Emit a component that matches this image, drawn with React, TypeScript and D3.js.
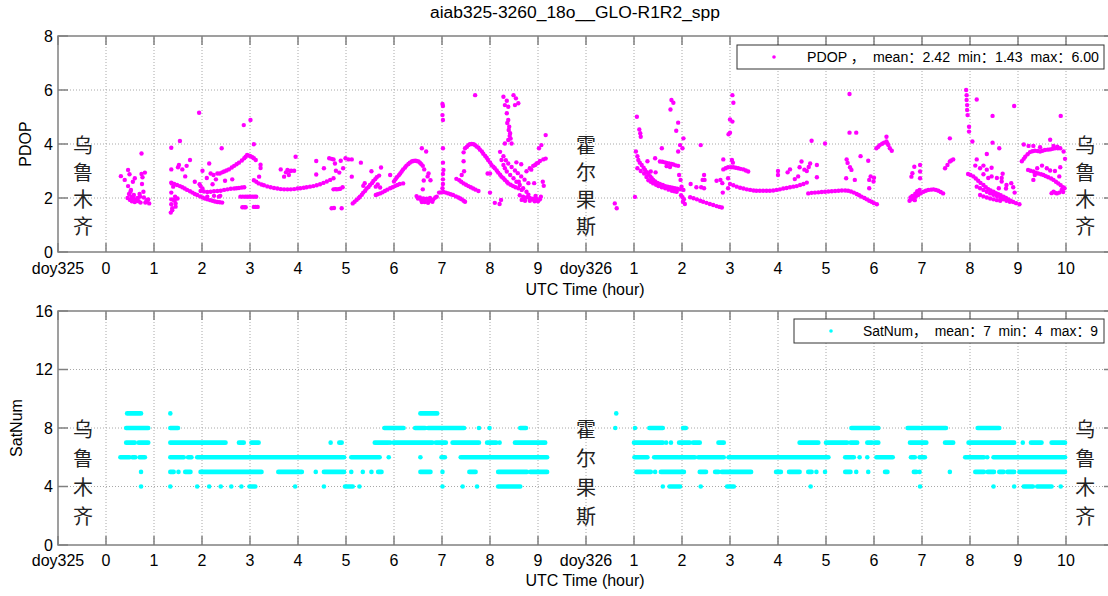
import React, { useRef, useEffect } from "react";
import { select, scaleLinear, range } from "d3";

// axis positions: 0 = doy325, 1..10 = hours 0..9, 11 = doy326, 12..21 = hours 1..10
const xTickLabels = ["doy325", "0", "1", "2", "3", "4", "5", "6", "7", "8", "9", "doy326", "1", "2", "3", "4", "5", "6", "7", "8", "9", "10"];
const pdopTicks = [0, 2, 4, 6, 8];
const satTicks = [0, 4, 8, 12, 16];

const title = "aiab325-3260_18o__GLO-R1R2_spp";
const pdopLegend = "PDOP ，  mean：2.42  min：1.43  max：6.00";
const satLegend = "SatNum，  mean：7  min：4  max：9";

const stationNames = ["乌鲁木齐", "霍尔果斯", "乌鲁木齐"];
const stationPos = [0.52, 11.0, 21.4];

// PDOP samples [axis hour, pdop], first day
const pdop325: [number, number][] = [
  [1.31, 2.81], [1.39, 2.67], [1.46, 2.44], [1.51, 2.23], [1.57, 2.05], [1.64, 1.9], [1.72, 1.83], [1.82, 1.83], [1.9, 1.8],
  [1.46, 3.04], [1.49, 2.88], [1.6, 2.73], [1.74, 3.65], [1.74, 2.89], [1.81, 2.94], [1.76, 2.77], [1.75, 2.52], [1.78, 2.23],
  [1.71, 2.05], [1.53, 2.05], [1.5, 1.93], [1.58, 2.11], [1.79, 2.02], [1.86, 1.93], [1.55, 1.98], [1.62, 1.95], [1.68, 1.88],
  [1.52, 2.3], [1.56, 2.6], [1.45, 2.0], [1.48, 2.15], [1.54, 1.88], [1.6, 1.85], [1.66, 2.0], [1.7, 2.15], [1.84, 1.88], [1.88, 1.95],
  [2.36, 3.86], [2.36, 3.06], [2.37, 2.54], [2.4, 2.42], [2.36, 2.2], [2.36, 1.95], [2.41, 1.93], [2.36, 1.77], [2.45, 1.68],
  [2.38, 1.62], [2.35, 1.46], [2.45, 1.8], [2.49, 1.98], [2.38, 1.55], [2.43, 1.9], [2.44, 2.05],
  [2.36, 2.57], [2.42, 2.52], [2.48, 2.48], [2.54, 2.44], [2.59, 2.4], [2.64, 2.35], [2.69, 2.3], [2.75, 2.25], [2.8, 2.2],
  [2.85, 2.15], [2.9, 2.11], [2.96, 2.06], [3.01, 2.02], [3.06, 1.98], [3.11, 1.95], [3.17, 1.92], [3.22, 1.9], [3.27, 1.87],
  [3.32, 1.85], [3.37, 1.84], [3.42, 1.83],
  [2.97, 2.26], [3.04, 2.24], [3.11, 2.22], [3.18, 2.23], [3.25, 2.25], [3.32, 2.26], [3.39, 2.27], [3.46, 2.3], [3.53, 2.32],
  [3.6, 2.34], [3.67, 2.35], [3.72, 2.36], [3.77, 2.37], [3.83, 2.39], [3.88, 2.4],
  [3.37, 2.91], [3.42, 2.95], [3.46, 2.98], [3.51, 3.02], [3.56, 3.06], [3.62, 3.13], [3.67, 3.19], [3.72, 3.25], [3.77, 3.31],
  [3.83, 3.39], [3.88, 3.47], [3.91, 3.53], [3.94, 3.59], [3.98, 3.57], [4.01, 3.55], [4.05, 3.51], [4.08, 3.47], [4.12, 3.41],
  [4.19, 2.79], [4.22, 3.23], [4.22, 3.11], [4.08, 3.99], [4.01, 4.89], [3.87, 4.7], [2.94, 5.16], [3.41, 3.84], [2.54, 4.11],
  [2.75, 3.41], [2.68, 3.19], [2.59, 3.06], [2.52, 3.22], [2.5, 3.14], [3.01, 3.01], [3.1, 2.74], [3.15, 3.28], [3.18, 2.91],
  [3.24, 2.85], [3.29, 2.69], [3.32, 2.91], [3.48, 2.64], [3.63, 2.69], [3.22, 2.51], [2.95, 2.51], [2.97, 2.44], [3.01, 2.35],
  [3.25, 2.08], [3.35, 2.05], [3.38, 2.08], [3.11, 2.05], [2.85, 2.6], [2.65, 2.8],
  [3.8, 2.05], [3.85, 2.05], [3.9, 2.05], [3.94, 2.05], [3.98, 2.05], [4.02, 2.05], [4.06, 2.05], [4.1, 2.05], [4.13, 2.05],
  [3.84, 1.66], [3.88, 1.66], [3.91, 1.66], [4.08, 1.67], [4.12, 1.67], [4.16, 1.67],
  [4.08, 2.66], [4.13, 2.6], [4.18, 2.54], [4.24, 2.5], [4.29, 2.47], [4.36, 2.43], [4.43, 2.4], [4.5, 2.37], [4.57, 2.35],
  [4.64, 2.33], [4.71, 2.32], [4.78, 2.32], [4.85, 2.32], [4.92, 2.33], [4.99, 2.35], [5.05, 2.36], [5.12, 2.38], [5.18, 2.4],
  [5.25, 2.42], [5.32, 2.44], [5.39, 2.47], [5.46, 2.51], [5.53, 2.56], [5.6, 2.61], [5.67, 2.67], [5.74, 2.73],
  [4.64, 3.06], [4.71, 2.79], [4.78, 3.04], [4.86, 3.01], [4.92, 3.01], [4.95, 3.53], [4.81, 2.85], [4.83, 3.0], [4.75, 2.95],
  [5.38, 3.37], [5.38, 2.87], [5.54, 3.1], [5.65, 3.47], [5.7, 3.45], [5.74, 3.43], [5.77, 3.28], [5.79, 3.01], [5.86, 2.94],
  [5.89, 3.38], [5.94, 3.1], [5.99, 3.47], [6.05, 3.43], [6.12, 3.43], [6.12, 2.79], [6.31, 3.31],
  [5.74, 2.32], [5.78, 2.33], [5.81, 2.32], [5.85, 2.33], [5.88, 2.34], [5.93, 2.4], [5.7, 1.62], [5.91, 1.62], [5.75, 1.63],
  [6.14, 1.8], [6.18, 1.86], [6.22, 1.93], [6.26, 1.99], [6.29, 2.05], [6.33, 2.12], [6.36, 2.2], [6.4, 2.27], [6.43, 2.35],
  [6.47, 2.41], [6.5, 2.48], [6.54, 2.55], [6.57, 2.63], [6.61, 2.7], [6.64, 2.77], [6.69, 2.83],
  [6.53, 2.99], [6.73, 3.13], [6.62, 2.42], [6.39, 2.55], [6.36, 2.45], [6.71, 2.39], [6.66, 2.5],
  [6.62, 2.11], [6.66, 2.14], [6.71, 2.17], [6.76, 2.21], [6.81, 2.26], [6.86, 2.31], [6.92, 2.36], [6.97, 2.4], [7.02, 2.44],
  [7.07, 2.48], [7.12, 2.52], [7.19, 2.54], [6.92, 2.85],
  [7.0, 2.61], [7.03, 2.69], [7.06, 2.77], [7.1, 2.84], [7.13, 2.91], [7.16, 2.98], [7.19, 3.06], [7.23, 3.13], [7.26, 3.2],
  [7.3, 3.26], [7.33, 3.31], [7.37, 3.35], [7.4, 3.37], [7.44, 3.38], [7.47, 3.37], [7.51, 3.35], [7.54, 3.31], [7.57, 3.25],
  [7.6, 3.19], [7.63, 3.06],
  [7.58, 3.84], [7.67, 3.72], [7.72, 2.91], [7.76, 2.66], [7.7, 2.8], [7.6, 2.32], [7.62, 2.65],
  [7.47, 2.07], [7.5, 1.98], [7.54, 2.02], [7.57, 1.92], [7.61, 1.98], [7.64, 1.85], [7.68, 1.97], [7.72, 1.88], [7.75, 2.0],
  [7.78, 1.9], [7.82, 1.95], [7.86, 2.02], [7.89, 2.05], [7.58, 1.85], [7.71, 1.82], [7.8, 1.86],
  [8.01, 5.48], [8.02, 5.41], [8.01, 5.07], [8.02, 4.89], [8.02, 3.84], [8.02, 3.31], [8.03, 3.04], [8.02, 2.89], [8.02, 2.69],
  [8.02, 2.52], [8.01, 2.36],
  [7.94, 2.2], [7.98, 2.21], [8.03, 2.22], [8.08, 2.2], [8.13, 2.17], [8.18, 2.14], [8.23, 2.11], [8.29, 2.06], [8.34, 2.02],
  [8.38, 1.98], [8.41, 1.95], [8.45, 1.9], [8.48, 1.86],
  [8.69, 5.81], [8.3, 2.71], [8.41, 2.85], [8.46, 2.99], [8.45, 3.36], [8.45, 3.69],
  [8.48, 3.84], [8.52, 3.9], [8.55, 3.96], [8.58, 3.99], [8.62, 4.0], [8.66, 3.99], [8.69, 3.96], [8.72, 3.91], [8.76, 3.86],
  [8.79, 3.79], [8.83, 3.72], [8.86, 3.64], [8.9, 3.56], [8.93, 3.49], [8.96, 3.41], [9.0, 3.32], [9.03, 3.22], [9.07, 3.16],
  [9.1, 3.1], [9.14, 3.02], [9.17, 2.94], [9.21, 2.86], [9.24, 2.79], [9.28, 2.73], [9.31, 2.67], [9.35, 2.6], [9.38, 2.54],
  [9.43, 2.49], [9.48, 2.44], [9.53, 2.4], [9.59, 2.36], [9.66, 2.3],
  [8.36, 2.66], [8.4, 2.6], [8.45, 2.54], [8.5, 2.49], [8.55, 2.44], [8.6, 2.4], [8.65, 2.35], [8.7, 2.31], [8.76, 2.26],
  [9.28, 5.75], [9.35, 5.6], [9.38, 5.38], [9.49, 5.81], [9.54, 5.69], [9.59, 5.51], [9.52, 5.44], [9.31, 5.44],
  [9.35, 5.14], [9.38, 4.89], [9.4, 4.64], [9.42, 4.4], [9.38, 4.15], [9.31, 4.02], [9.43, 4.2], [9.45, 4.02], [9.36, 4.78],
  [9.39, 4.52], [9.41, 4.3],
  [9.21, 3.71], [9.24, 3.41], [9.28, 3.22], [9.31, 3.1], [9.35, 2.98], [9.42, 2.85], [9.49, 2.73], [9.55, 2.6], [9.62, 2.48],
  [9.69, 2.36], [9.76, 2.23],
  [9.28, 3.55], [9.33, 3.4], [9.38, 3.28], [9.45, 3.15], [9.52, 3.02], [9.58, 2.92], [9.65, 2.8], [9.72, 2.68], [9.8, 2.55],
  [9.62, 2.1], [9.69, 2.05], [9.76, 2.02], [9.83, 2.0], [9.9, 1.97], [9.97, 1.97], [10.04, 1.95], [9.66, 1.93], [9.73, 1.9],
  [9.83, 1.9], [9.93, 1.88], [10.0, 1.88], [10.06, 2.05], [9.8, 2.12], [9.95, 2.08], [9.7, 1.97], [9.88, 1.95],
  [9.76, 2.99], [9.83, 3.1], [9.9, 3.19], [9.97, 3.28], [10.04, 3.37], [10.11, 3.43], [10.16, 3.46], [9.86, 3.05], [9.94, 3.22],
  [10.0, 3.3],
  [10.16, 4.33], [10.07, 3.96], [10.02, 3.84], [9.0, 2.91], [8.95, 2.91], [9.0, 2.2], [9.1, 1.82], [9.23, 1.93], [9.2, 1.78],
  [9.6, 2.6], [9.55, 3.32], [9.65, 3.25], [10.1, 2.6], [10.12, 2.45], [9.92, 2.55],
];

// PDOP samples, second day
const pdop326: [number, number][] = [
  [11.6, 1.8], [11.64, 1.62], [12.02, 2.04], [12.06, 5.01], [12.11, 4.54], [12.14, 4.27], [12.13, 4.4],
  [12.04, 3.72], [12.07, 3.55], [12.09, 3.41], [12.12, 3.31], [12.16, 3.22], [12.2, 3.12], [12.23, 3.04], [12.27, 2.96],
  [12.3, 2.88], [12.34, 2.8], [12.37, 2.73], [12.4, 2.67], [12.44, 2.61], [12.49, 2.56], [12.54, 2.52], [12.6, 2.48],
  [12.65, 2.44], [12.7, 2.42], [12.75, 2.4], [12.8, 2.38], [12.85, 2.36], [12.9, 2.34], [12.96, 2.32], [13.03, 2.3],
  [12.07, 3.1], [12.14, 3.0], [12.21, 2.91], [12.26, 2.78], [12.3, 2.66], [12.35, 2.6], [12.4, 2.54], [12.46, 2.49],
  [12.51, 2.44], [12.58, 2.4], [12.65, 2.36], [12.72, 2.31], [12.79, 2.27], [12.84, 2.25], [12.89, 2.23],
  [12.54, 3.35], [12.59, 3.34], [12.64, 3.32], [12.68, 3.3], [12.73, 3.28], [12.78, 3.26], [12.82, 3.24], [12.87, 3.21],
  [12.92, 3.19], [12.68, 3.18], [12.75, 3.15],
  [12.44, 3.47], [12.58, 3.84], [12.78, 5.63], [12.82, 5.53], [12.76, 5.28], [12.92, 4.79], [12.88, 4.49], [12.96, 3.96],
  [12.92, 3.72], [13.01, 3.84], [13.03, 4.21], [12.94, 2.85], [12.97, 2.67], [12.99, 2.42], [12.35, 2.98], [12.45, 2.95],
  [12.28, 3.36],
  [13.01, 2.03], [13.02, 1.86], [13.06, 1.78], [12.98, 2.1], [13.04, 1.95],
  [13.17, 2.03], [13.24, 1.99], [13.31, 1.95], [13.38, 1.9], [13.44, 1.86], [13.51, 1.82], [13.58, 1.78], [13.65, 1.74],
  [13.72, 1.7], [13.78, 1.67], [13.83, 1.65],
  [13.18, 2.52], [13.39, 3.96], [13.43, 2.67], [13.47, 2.67], [13.46, 2.36], [13.46, 2.85], [13.72, 2.64], [13.8, 2.67],
  [13.84, 2.55], [13.86, 3.43], [13.85, 2.2], [13.4, 2.4], [13.3, 2.4],
  [14.05, 5.81], [14.07, 5.53], [14.0, 4.91], [14.05, 4.83], [14.0, 4.42], [13.97, 4.36], [14.04, 3.41], [14.06, 3.31],
  [13.86, 3.06], [13.91, 3.1], [13.96, 3.14], [14.02, 3.14], [14.07, 3.14], [14.12, 3.12], [14.17, 3.1], [14.22, 3.08],
  [14.28, 3.06], [14.33, 3.02], [14.38, 2.98], [13.96, 2.73], [13.96, 2.36],
  [14.0, 2.52], [14.07, 2.47], [14.14, 2.42], [14.21, 2.38], [14.28, 2.35], [14.35, 2.32], [14.42, 2.3], [14.49, 2.28],
  [14.55, 2.27], [14.62, 2.27], [14.69, 2.27], [14.76, 2.27], [14.83, 2.27], [14.9, 2.28], [14.97, 2.3], [15.04, 2.32],
  [15.11, 2.35], [15.18, 2.37], [15.25, 2.4], [15.32, 2.42], [15.39, 2.44], [15.46, 2.48], [15.53, 2.52], [15.6, 2.57],
  [15.0, 3.0], [15.0, 2.85], [15.25, 3.06], [15.45, 3.14], [15.49, 3.35], [15.6, 3.0], [15.67, 3.28], [15.64, 3.15],
  [15.35, 2.7], [15.42, 2.8], [15.81, 3.22], [15.81, 2.77], [15.7, 4.12], [15.2, 2.95], [15.55, 3.05],
  [15.63, 2.17], [15.7, 2.19], [15.77, 2.2], [15.84, 2.21], [15.91, 2.22], [15.98, 2.23], [16.05, 2.24], [16.12, 2.25],
  [16.19, 2.26], [16.26, 2.27], [16.33, 2.28], [16.4, 2.28], [16.46, 2.27], [16.52, 2.24], [16.58, 2.2], [16.64, 2.15],
  [16.69, 2.1], [16.74, 2.05], [16.8, 2.0], [16.85, 1.95], [16.9, 1.9], [16.95, 1.86], [17.0, 1.81], [17.06, 1.77],
  [16.49, 5.85], [16.49, 4.42], [16.63, 4.42], [16.43, 3.43], [16.5, 3.14], [16.53, 3.04], [16.42, 2.73], [16.6, 2.67],
  [16.72, 3.55], [16.88, 3.38], [16.9, 2.67], [16.99, 2.61], [17.0, 2.75], [16.9, 2.36], [15.98, 4.02], [16.45, 3.3],
  [16.93, 2.8],
  [17.05, 3.84], [17.09, 3.9], [17.12, 3.96], [17.17, 4.01], [17.21, 4.05], [17.26, 4.09], [17.28, 4.02], [17.3, 3.96],
  [17.33, 3.84], [17.37, 3.75], [17.26, 4.27],
  [17.74, 1.9], [17.78, 1.95], [17.82, 1.99], [17.87, 2.05], [17.92, 2.11], [17.97, 2.17], [18.03, 2.23], [18.08, 2.27],
  [18.13, 2.3], [18.19, 2.31], [18.24, 2.32], [18.29, 2.3], [18.34, 2.27], [18.39, 2.22], [18.44, 2.17],
  [17.8, 2.08], [17.86, 2.16], [17.9, 2.25], [17.95, 2.3], [17.78, 2.79], [17.8, 2.92], [17.84, 3.16], [17.96, 3.22],
  [17.96, 2.98], [17.96, 2.73], [17.76, 2.02], [17.85, 1.92],
  [18.48, 3.1], [18.53, 3.22], [18.58, 3.35], [18.65, 3.43], [18.61, 3.39], [18.58, 4.21],
  [18.92, 6.0], [18.93, 5.81], [18.93, 5.63], [18.94, 5.44], [18.94, 5.26], [18.95, 5.07], [18.98, 4.64], [18.98, 4.46],
  [19.05, 4.09], [19.14, 5.65], [19.47, 5.04], [19.92, 5.41], [20.89, 5.04],
  [19.47, 4.05], [19.61, 3.84], [19.35, 3.63], [19.14, 3.43], [19.11, 3.2], [19.21, 3.1], [19.28, 3.2], [19.35, 3.05],
  [19.45, 3.12],
  [18.96, 2.89], [19.01, 2.85], [19.07, 2.8], [19.12, 2.72], [19.17, 2.64], [19.22, 2.56], [19.28, 2.48], [19.33, 2.4],
  [19.38, 2.33], [19.43, 2.28], [19.49, 2.23], [19.54, 2.18], [19.59, 2.14], [19.64, 2.1], [19.7, 2.05], [19.75, 2.0],
  [19.8, 1.95], [19.85, 1.9], [19.9, 1.85], [19.96, 1.81], [20.03, 1.77],
  [19.14, 2.42], [19.21, 2.36], [19.28, 2.3], [19.35, 2.23], [19.42, 2.17], [19.49, 2.12], [19.56, 2.07], [19.63, 2.01],
  [19.7, 1.95], [19.76, 1.9], [19.83, 1.86],
  [19.21, 2.11], [19.28, 2.06], [19.35, 2.02], [19.42, 1.98], [19.49, 1.95], [19.56, 1.92], [19.63, 1.9],
  [19.28, 2.88], [19.38, 2.74], [19.45, 2.8], [19.56, 2.74], [19.66, 2.61], [19.76, 2.48], [19.66, 2.74], [19.68, 2.9],
  [19.86, 2.55], [19.9, 2.4], [19.75, 2.35], [19.6, 2.36], [19.93, 2.2],
  [20.08, 3.36], [20.12, 3.45], [20.15, 3.53], [20.2, 3.62], [20.25, 3.7], [20.3, 3.73], [20.35, 3.75], [20.41, 3.74],
  [20.46, 3.72], [20.51, 3.75], [20.56, 3.78], [20.62, 3.79], [20.67, 3.8], [20.72, 3.82], [20.77, 3.84], [20.83, 3.84],
  [20.88, 3.84],
  [20.12, 3.98], [20.22, 3.93], [20.32, 3.93], [20.46, 3.88], [20.67, 4.16], [20.74, 3.93], [20.82, 3.9],
  [20.21, 3.04], [20.26, 3.01], [20.32, 2.98], [20.37, 2.94], [20.42, 2.91], [20.48, 2.88], [20.53, 2.85], [20.58, 2.81],
  [20.63, 2.77], [20.69, 2.72], [20.74, 2.67], [20.79, 2.6], [20.84, 2.54], [20.89, 2.47], [20.94, 2.4], [20.97, 2.36],
  [20.32, 2.67], [20.35, 2.85], [20.74, 2.23], [20.81, 2.17], [20.91, 2.3], [20.88, 3.14], [20.86, 2.8], [20.77, 3.0],
  [20.67, 3.02], [20.6, 3.1], [20.5, 3.2], [20.4, 3.1], [20.95, 3.72], [20.98, 3.45],
  [20.7, 2.18], [20.78, 2.19], [20.86, 2.2], [20.94, 2.22],
];

// satellite count runs [satellites, from, to] in axis hours
const sat325Runs: [number, number, number][] = [
  [9, 1.44, 1.73], [9, 2.34, 2.34], [9, 7.55, 7.9],
  [8, 1.42, 1.88], [8, 2.34, 2.5], [8, 6.8, 7.2], [8, 7.44, 7.65], [8, 7.71, 8.46], [8, 8.77, 8.77], [8, 8.99, 8.99],
  [8, 9.63, 9.75],
  [7, 1.42, 1.6], [7, 1.68, 1.88], [7, 2.34, 3.49], [7, 3.77, 3.87], [7, 4.03, 4.18], [7, 5.68, 5.68], [7, 5.86, 5.91],
  [7, 6.6, 6.88], [7, 6.92, 6.92], [7, 6.99, 7.8], [7, 7.87, 8.08], [7, 8.22, 8.77], [7, 8.94, 9.13], [7, 9.2, 9.2],
  [7, 9.52, 10.15],
  [6, 1.3, 1.49], [6, 1.55, 1.61], [6, 1.7, 1.81], [6, 2.34, 2.62], [6, 2.71, 2.78], [6, 2.9, 5.96], [6, 6.11, 6.7],
  [6, 6.89, 6.89], [6, 7.55, 7.55], [6, 7.99, 8.06], [6, 8.39, 10.19],
  [5, 1.73, 1.73], [5, 2.34, 2.41], [5, 2.51, 2.51], [5, 2.65, 2.76], [5, 2.97, 4.24], [5, 4.59, 5.08], [5, 5.37, 5.37],
  [5, 5.54, 5.96], [5, 6.11, 6.11], [5, 6.35, 6.35], [5, 6.53, 6.53], [5, 6.67, 6.74], [5, 7.55, 7.76], [5, 8.01, 8.01],
  [5, 8.57, 8.7], [5, 9.17, 9.77], [5, 9.84, 10.19],
  [4, 1.73, 1.73], [4, 2.34, 2.34], [4, 2.9, 2.9], [4, 3.15, 3.15], [4, 3.39, 3.39], [4, 3.61, 3.61], [4, 3.82, 3.82],
  [4, 3.99, 4.11], [4, 4.94, 4.94], [4, 5.54, 5.54], [4, 5.98, 6.14], [4, 6.28, 6.28], [4, 8.01, 8.01], [4, 8.43, 8.43],
  [4, 8.73, 8.73], [4, 9.17, 9.63],
];

const sat326Runs: [number, number, number][] = [
  [9, 11.63, 11.63],
  [8, 11.61, 11.61], [8, 12.02, 12.02], [8, 12.32, 12.6], [8, 13.02, 13.08], [8, 16.53, 17.09], [8, 17.7, 17.95],
  [8, 17.99, 18.5], [8, 19.16, 19.61],
  [7, 12.0, 12.6], [7, 12.67, 12.67], [7, 12.77, 12.77], [7, 12.94, 13.16], [7, 13.23, 13.37], [7, 13.76, 13.87],
  [7, 15.45, 15.84], [7, 16.0, 16.44], [7, 16.51, 16.65], [7, 16.86, 16.96], [7, 17.02, 17.09], [7, 17.75, 18.09],
  [7, 18.48, 18.65], [7, 18.97, 19.92], [7, 20.1, 20.1], [7, 20.27, 20.49], [7, 20.7, 20.98],
  [6, 12.01, 12.28], [6, 12.42, 12.92], [6, 12.95, 13.27], [6, 13.34, 13.87], [6, 13.97, 16.05], [6, 16.4, 16.58],
  [6, 16.7, 16.7], [6, 16.86, 16.86], [6, 17.05, 17.39], [6, 17.77, 17.85], [6, 17.95, 18.06], [6, 18.9, 19.29],
  [6, 19.36, 19.36], [6, 19.49, 20.98],
  [5, 12.05, 12.35], [5, 12.44, 12.44], [5, 12.56, 13.04], [5, 13.37, 13.5], [5, 13.69, 13.76], [5, 13.83, 14.44],
  [5, 14.96, 15.06], [5, 15.23, 15.45], [5, 15.63, 15.7], [5, 15.8, 15.8], [5, 15.98, 15.98], [5, 16.4, 16.51],
  [5, 16.63, 16.63], [5, 16.88, 16.88], [5, 17.23, 17.28], [5, 17.83, 17.88], [5, 17.95, 17.95], [5, 18.58, 18.58],
  [5, 19.11, 19.29], [5, 19.37, 19.5], [5, 19.61, 19.7], [5, 19.78, 19.92], [5, 20.03, 20.98],
  [4, 12.6, 12.6], [4, 12.74, 12.96], [4, 13.39, 13.39], [4, 13.94, 14.08], [4, 15.68, 15.68], [4, 17.96, 17.96],
  [4, 19.49, 19.49], [4, 19.92, 19.92], [4, 20.12, 20.31], [4, 20.4, 20.7], [4, 20.89, 20.89],
];

const font = "'Liberation Sans', Arial, 'Noto Sans CJK SC', sans-serif";

const App = () => {
  const ref = useRef<SVGSVGElement>(null);

  useEffect(() => {
    const svg = select(ref.current);
    svg.selectAll("*").remove();

    const x = scaleLinear().domain([0, 22]).range([58, 1114]);

    const panels = [
      {
        y: scaleLinear().domain([0, 8]).range([252, 36]),
        ticks: pdopTicks, label: "PDOP", labelX: 31, tickBase: 274, xLabelBase: 295,
        charLevels: [4, 3, 2, 1], legend: pdopLegend, box: [737, 45, 1104, 69], marker: 774, textX: 807, textEnd: 1099,
        color: "#ff00ff",
      },
      {
        y: scaleLinear().domain([0, 16]).range([545, 311]),
        ticks: satTicks, label: "SatNum", labelX: 22, tickBase: 566, xLabelBase: 586,
        charLevels: [8, 6, 4, 2], legend: satLegend, box: [794, 319, 1104, 343], marker: 831, textX: 863, textEnd: 1098,
        color: "#00ffff",
      },
    ];

    svg.append("text")
      .attr("x", 575).attr("y", 18)
      .attr("text-anchor", "middle")
      .attr("font-family", font).attr("font-size", 16)
      .attr("textLength", 290).attr("lengthAdjust", "spacingAndGlyphs")
      .text(title);

    panels.forEach((p, pi) => {
      const g = svg.append("g");
      const [y0, y1] = p.y.range();
      const xt = range(xTickLabels.length);

      // dotted grid
      g.selectAll(".vg").data(xt.slice(1)).enter().append("line")
        .attr("x1", (d) => x(d)).attr("x2", (d) => x(d)).attr("y1", y0).attr("y2", y1)
        .attr("stroke", "#a8a8a8").attr("stroke-dasharray", "1,2");
      g.selectAll(".hg").data(p.ticks.slice(1, -1)).enter().append("line")
        .attr("x1", x(0)).attr("x2", x(22)).attr("y1", (d) => p.y(d)).attr("y2", (d) => p.y(d))
        .attr("stroke", "#a8a8a8").attr("stroke-dasharray", "1,2");

      // data
      if (pi === 0) {
        g.selectAll(".pt").data([...pdop325, ...pdop326]).enter().append("circle")
          .attr("cx", (d) => x(d[0])).attr("cy", (d) => p.y(d[1])).attr("r", 2.2)
          .attr("fill", p.color);
      } else {
        const h = 4.6;
        g.selectAll(".run").data([...sat325Runs, ...sat326Runs]).enter().append("rect")
          .attr("x", (d) => x(d[1]) - h / 2).attr("y", (d) => p.y(d[0]) - h / 2)
          .attr("width", (d) => x(d[2]) - x(d[1]) + h).attr("height", h)
          .attr("rx", h / 2).attr("fill", p.color);
      }

      // station labels
      stationNames.forEach((name, si) => {
        Array.from(name).forEach((ch, ci) => {
          g.append("text")
            .attr("x", x(stationPos[si])).attr("y", p.y(p.charLevels[ci]))
            .attr("text-anchor", "middle").attr("dominant-baseline", "central")
            .attr("font-family", "'Noto Sans CJK SC', sans-serif").attr("font-size", 20)
            .attr("fill", "#222").text(ch);
        });
      });

      // axes box and ticks
      const axisColor = "#808080";
      g.append("rect").attr("x", x(0)).attr("y", y1).attr("width", x(22) - x(0)).attr("height", y0 - y1)
        .attr("fill", "none").attr("stroke", axisColor).attr("stroke-width", 1.5);
      g.selectAll(".tb").data(xt).enter().append("line")
        .attr("x1", (d) => x(d)).attr("x2", (d) => x(d)).attr("y1", y0).attr("y2", y0 - 9)
        .attr("stroke", axisColor).attr("stroke-width", 1.5);
      g.selectAll(".tt").data(xt).enter().append("line")
        .attr("x1", (d) => x(d)).attr("x2", (d) => x(d)).attr("y1", y1).attr("y2", y1 + 9)
        .attr("stroke", axisColor).attr("stroke-width", 1.5);
      g.selectAll(".tl").data(p.ticks).enter().append("line")
        .attr("x1", x(0)).attr("x2", x(0) + 10).attr("y1", (d) => p.y(d)).attr("y2", (d) => p.y(d))
        .attr("stroke", axisColor).attr("stroke-width", 1.5);
      g.selectAll(".tr").data(p.ticks).enter().append("line")
        .attr("x1", x(22)).attr("x2", x(22) - 10).attr("y1", (d) => p.y(d)).attr("y2", (d) => p.y(d))
        .attr("stroke", axisColor).attr("stroke-width", 1.5);

      // tick labels
      g.selectAll(".xl").data(xt).enter().append("text")
        .attr("x", (d) => x(d)).attr("y", p.tickBase)
        .attr("text-anchor", "middle").attr("font-family", font).attr("font-size", 16)
        .text((d) => xTickLabels[d]);
      g.selectAll(".yl").data(p.ticks).enter().append("text")
        .attr("x", 53).attr("y", (d) => p.y(d)).attr("dy", "0.36em")
        .attr("text-anchor", "end").attr("font-family", font).attr("font-size", 16)
        .text((d) => String(d));

      // axis titles
      g.append("text")
        .attr("x", 585).attr("y", p.xLabelBase)
        .attr("text-anchor", "middle").attr("font-family", font).attr("font-size", 16)
        .text("UTC Time (hour)");
      g.append("text")
        .attr("transform", `translate(${p.labelX},${(y0 + y1) / 2}) rotate(-90)`)
        .attr("text-anchor", "middle").attr("font-family", font).attr("font-size", 16)
        .text(p.label);

      // legend
      const [bx0, by0, bx1, by1] = p.box;
      g.append("rect").attr("x", bx0).attr("y", by0).attr("width", bx1 - bx0).attr("height", by1 - by0)
        .attr("fill", "#fff").attr("stroke", "#333").attr("stroke-width", 1);
      g.append("circle").attr("cx", p.marker).attr("cy", (by0 + by1) / 2).attr("r", 1.8).attr("fill", p.color);
      g.append("text")
        .attr("x", p.textX).attr("y", (by0 + by1) / 2).attr("dy", "0.36em")
        .attr("font-family", font).attr("font-size", 14)
        .attr("textLength", p.textEnd - p.textX).attr("lengthAdjust", "spacingAndGlyphs")
        .attr("xml:space", "preserve")
        .text(p.legend);
    });

    return () => {
      svg.selectAll("*").remove();
    };
  }, []);

  return (
    <svg
      ref={ref}
      width={1108}
      height={596}
      style={{ position: "absolute", left: 0, top: 0, background: "#fff", display: "block" }}
    />
  );
};

export default App;
